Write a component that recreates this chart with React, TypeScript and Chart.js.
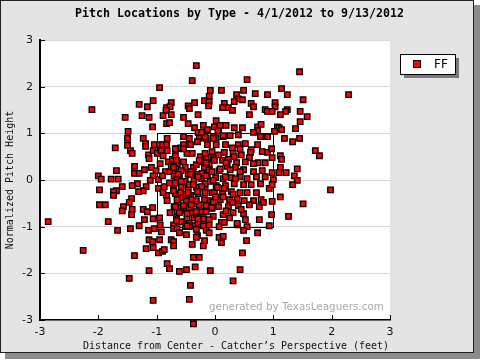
import React, { useEffect, useRef } from "react";
import { Chart, registerables } from "chart.js";

Chart.register(...registerables);

// ---- data ----
const titleText = "Pitch Locations by Type - 4/1/2012 to 9/13/2012";
const xAxisTitle = "Distance from Center - Catcher\u2019s Perspective (feet)";
const yAxisTitle = "Normalized Pitch Height";
const watermarkText = "generated by TexasLeaguers.com";
const seriesLabel = "FF";
const xTickValues = [-3, -2, -1, 0, 1, 2, 3];
const yTickValues = [-3, -2, -1, 0, 1, 2, 3];
const zoneX = [-1, 1];
const zoneY = [-1, 1];

const pitchX = [
  -2.11, -0.95, -1.3, -1.16, -1.06, -1.54, -1.25, -1.13, -1.07, -1.49, -1.5, -1.23,
  -0.32, -0.39, 0.55, -0.08, 0.11, 0.37, 0.49, 0.69, 0.9, -0.75, -0.83, -0.77, -0.84,
  -0.35, -0.46, -0.44, -0.18, -0.1, -0.1, -0.11, 0.16, 0.13, 0.23, 0.3, 0.4, 0.47, 0.33,
  0.62, 0.66, 0.86, 0.9, -0.89, -0.75, -0.29, 0.59, -0.54, -0.46, -0.83, -0.78, 0.02,
  -0.35, -0.2, -0.01, 0.09, 0.19, 0.33, 0.47, 0.06, -0.13, -0.29, 0.73, 0.79, 0.73, 0.66,
  -0.82, -0.54, -0.44, -0.22, -0.15, 0.02, 0.14, 0.26, 0.4, 0.78, 0.9,
  1.45, 1.14, 1.24, 2.29, 1.51, 1.03, 1.03, 0.98, 1.24, 1.21, 1.12, 1.46, 1.58, 1.46,
  1.07, 1.1, 1.14, 1.38, 1.02, 1.19, 1.45,
  -1.5, -1.71, -1.45, -1.42, -1.19, -1.19, -1.04, -0.95, -1.14, -1.06, -0.99, -1.13,
  -1.38, -1.69, -2.0, -1.95, -1.78, -1.66, -1.38, -1.3, -1.21, -1.09, -1.01, -1.06,
  -1.11, -0.97, -1.33, -1.42, -1.59, -1.98, -1.69, -1.74, -1.74, -1.18, -1.23, -1.31,
  -0.97, -1.43, -1.47, -1.98, -1.88, -1.57, -1.59, -1.42, -1.43, -1.23, -1.16, -1.07,
  -1.21, -1.06, -0.95, -2.86, -1.83, -1.45, -1.3, -1.04,
  -0.9, -0.83, -0.92, -0.89, -0.82, -0.94, -0.8, -0.73, -0.68, -0.66, -0.59, -0.54,
  -0.42, -0.48, -0.39, -0.54, -0.65, -0.51, -0.37, -0.85, -0.77, -0.9, -0.7, -0.61,
  -0.46, -0.3, -0.22, -0.13, -0.65, -0.51, -0.36, -0.23, -0.87, -0.71, -0.58, -0.46,
  -0.32, -0.17, -0.83, -0.68, -0.54, -0.42, -0.29, -0.18, -0.82, -0.63, -0.49, -0.36,
  -0.77, -0.65, -0.51, -0.39, -0.25, -0.66, -0.48, -0.36, -0.2, -0.71, -0.51, -0.37,
  -0.1, -0.03, -0.13, -0.05, -0.03, -0.1, -0.27, -0.17, -0.23, -0.3, -0.25, -0.15,
  -0.22, -0.32, -0.18, -0.1, -0.65, -0.75, -0.58, -0.41, -0.17, -0.08, -0.05, -0.08,
  -0.15, -0.05, -0.03, -0.29, -0.58, -0.44, -0.78, -0.89, -0.59, -0.41, -0.27, -0.7,
  -0.58, -0.44, -0.32, -0.59, -0.44, -0.2,
  0.05, 0.14, 1.33, 1.72, 1.79, 1.12, 1.14, 1.12, 1.1, 1.22, 1.41, 1.36, 1.41, 1.33,
  1.98, 1.12, 1.51, 1.26, 0.98, 1.0, 0.93, 0.98, 0.98, 0.97, 0.93,
  -0.03, 0.02, 0.18, 0.3, 0.4, 0.52, 0.62, 0.73, 0.81, 0.9, 0.97, 0.98, 0.86, 0.74,
  0.61, 0.59, 0.45, 0.31, 0.16, 0.06, -0.01, 0.13, 0.23, 0.37, 0.52, 0.66, 0.81, 0.66,
  0.49, 0.35, 0.21, 0.07, -0.05, 0.01, 0.14, 0.28, 0.43, 0.55, 0.71, 0.86, 0.78, 0.62,
  0.49, 0.33, 0.18, 0.02, -0.01, 0.13, 0.28, 0.43, 0.55, 0.71, 0.79, 0.66, 0.5, 0.38,
  0.25, 0.09, -0.03, 0.06, 0.23, 0.4, 0.59, 0.76, 0.83, 0.49, 0.31, 0.14, 0.76, 0.52,
  0.25, 0.11, 0.38, 0.55, 0.07,
  -1.67, -1.14, -0.92, -0.94, -0.71, -0.65, -0.61, -0.44, -0.49, -0.32, -0.3, -0.32,
  -0.15, -0.1, -2.26, -1.38, -1.13, -1.07, -0.95, -0.75, -0.71, -0.71, -1.18, -1.06,
  -0.97, -0.9, -0.87, -0.39, -0.2, -0.18, -0.82, -0.78, -0.37, -0.27, -0.34, -0.49,
  -0.61, -0.08, -1.13, -1.47, -0.42, -0.44, -1.06, -0.37,
  0.07, 0.14, 0.11, 0.49, 0.73, 0.54, 0.47, 0.43, 0.31,
  -0.68, -0.54, -0.17, 0.33, 0.43, -0.66, -0.27, -0.15, 0.19, -0.71, 0.09, 0.26, 0.43,
  -0.63, -0.42, -0.29, -0.15, -0.03, 0.18, 0.35, -0.68, -0.37, -0.23, 0.04, 0.16, -0.71,
  -0.59, -0.46, -0.3, -0.17, 0.01, 0.14, 0.31, -0.65, -0.49, -0.32, 0.3, -0.68, -0.54,
  -0.41, -0.06, 0.19, 0.45, -0.61, -0.48, -0.32, -0.15, -0.66, -0.48, -0.29, -0.1, 0.16,
  0.38,
];

const pitchY = [
  1.51, 1.98, 1.62, 1.57, 1.7, 1.34, 1.38, 1.34, 1.14, 1.04, 0.89, 0.89,
  2.45, 2.13, 2.15, 1.92, 1.92, 1.83, 1.92, 1.85, 1.83, 1.66, 1.55, 1.57, 1.49,
  1.66, 1.59, 1.53, 1.7, 1.79, 1.68, 1.59, 1.64, 1.55, 1.55, 1.49, 1.74, 1.72, 1.68,
  1.64, 1.57, 1.51, 1.47, 1.38, 1.4, 1.4, 1.4, 1.34, 1.21, 1.21, 1.23, 1.27,
  1.12, 1.17, 1.14, 1.17, 1.17, 1.12, 1.12, 1.06, 1.08, 1.02, 1.14, 1.19, 1.06, 1.02,
  0.89, 0.93, 0.89, 0.93, 0.89, 0.91, 0.93, 0.95, 0.97, 0.93, 0.93,
  2.32, 1.96, 1.83, 1.83, 1.72, 1.66, 1.57, 1.47, 1.51, 1.47, 1.4, 1.47, 1.36, 1.25,
  1.14, 1.12, 1.08, 1.1, 1.04, 0.89, 0.89,
  0.74, 0.69, 0.63, 0.57, 0.78, 0.72, 0.76, 0.76, 0.54, 0.63, 0.57, 0.46,
  0.29, 0.2, 0.09, 0.02, 0.02, 0.02, 0.14, 0.14, 0.22, 0.27, 0.2, 0.09,
  -0.01, 0.01, -0.08, -0.12, -0.14, -0.21, -0.23, -0.25, -0.33, -0.14, -0.23, -0.25,
  -0.18, -0.4, -0.48, -0.53, -0.53, -0.57, -0.66, -0.63, -0.74, -0.63, -0.68, -0.59,
  -0.85, -0.83, -0.81, -0.89, -0.89, -1.04, -0.98, -1.04,
  0.76, 0.76, 0.63, 0.52, 0.63, 0.35, 0.39, 0.44, 0.52, 0.67, 0.69, 0.76,
  0.76, 0.57, 0.57, 0.39, 0.24, 0.27, 0.27, 0.18, 0.18, 0.09, 0.09, 0.09,
  0.12, 0.12, 0.14, 0.12, 0.03, -0.03, -0.01, 0.03, -0.14, -0.18, -0.14, -0.18,
  -0.16, -0.18, -0.33, -0.29, -0.31, -0.33, -0.29, -0.42, -0.44, -0.48, -0.51, -0.51,
  -0.7, -0.68, -0.66, -0.7, -0.68, -0.83, -0.83, -0.81, -0.83, -0.96, -1.0, -0.98,
  -0.96, 0.93, 0.76, 0.61, 0.46, 0.33, 0.89, 0.93, 1.02, 0.82, 0.5, 0.48,
  0.39, 0.33, 0.27, 0.22, 0.35, 0.29, 0.2, 0.18, -0.08, -0.03, -0.27, -0.44,
  -0.55, -0.61, -0.78, -0.91, -0.03, -0.1, -0.06, -0.27, -0.38, -0.42, -0.53, -0.57,
  -0.59, -0.59, -0.74, -0.89, -0.93, -0.98,
  1.06, 0.95, 0.82, 0.63, 0.52, 0.52, 0.44, 0.27, 0.16, 0.16, 0.24, 0.09, -0.01, -0.1,
  -0.21, -0.36, -0.51, -0.78, 0.16, 0.01, -0.18, -0.1, -0.46, -0.74, -0.98,
  0.89, 0.76, 0.76, 0.69, 0.76, 0.78, 0.65, 0.76, 0.61, 0.59, 0.67, 0.48, 0.37, 0.37,
  0.59, 0.48, 0.54, 0.57, 0.59, 0.54, 0.42, 0.42, 0.44, 0.37, 0.39, 0.35, 0.2, 0.18,
  0.22, 0.27, 0.29, 0.2, 0.18, 0.05, 0.03, 0.05, 0.07, 0.03, 0.07, 0.07, -0.08, -0.1,
  -0.1, -0.08, -0.12, -0.12, -0.27, -0.29, -0.25, -0.27, -0.27, -0.27, -0.42, -0.44, -0.44, -0.4,
  -0.42, -0.42, -0.48, -0.57, -0.57, -0.55, -0.53, -0.57, -0.48, -0.72, -0.7, -0.74, -0.85, -0.85,
  -0.81, -0.91, -0.96, -1.0, -1.0,
  -1.08, -1.08, -1.11, -0.96, -1.04, -1.04, -1.13, -1.0, -1.17, -1.06, -1.19, -1.23,
  -1.08, -1.13, -1.51, -1.62, -1.28, -1.32, -1.28, -1.28, -1.32, -1.41, -1.47, -1.45,
  -1.56, -1.53, -1.49, -1.38, -1.41, -1.3, -1.79, -1.9, -1.66, -1.66, -1.86, -1.92,
  -1.96, -1.94, -1.94, -2.11, -2.26, -2.56, -2.58, -3.08,
  -1.23, -1.21, -1.34, -1.08, -1.13, -1.3, -1.56, -1.92, -2.16,
  0.67, 0.67, 0.57, 0.5, 0.67, 0.42, 0.42, 0.37, 0.37, 0.27, 0.24, 0.22, 0.18,
  0.12, 0.12, 0.07, 0.09, -0.01, 0.07, 0.03, -0.06, -0.1, -0.14, -0.16, -0.18, -0.23,
  -0.27, -0.27, -0.25, -0.27, -0.36, -0.36, -0.31, -0.42, -0.46, -0.44, -0.48, -0.57, -0.55,
  -0.53, -0.59, -0.66, -0.63, -0.7, -0.72, -0.68, -0.68, -0.87, -0.98, -0.83, -0.85, -0.91,
  -0.93,
];

const MONO = "'DejaVu Sans Mono', 'Liberation Mono', monospace";
const SANS = "'DejaVu Sans', Verdana, sans-serif";

function drawFitted(
  ctx: CanvasRenderingContext2D,
  text: string,
  x: number,
  y: number,
  width: number,
  weight: string,
  family: string,
  base: number
) {
  ctx.font = `${weight} ${base}px ${family}`;
  const w = ctx.measureText(text).width;
  const size = Math.max(6, Math.min(30, (base * width) / w));
  ctx.font = `${weight} ${size.toFixed(2)}px ${family}`;
  ctx.fillText(text, x, y);
}

const framePlugin = {
  id: "framePlugin",
  beforeDraw(chart: any) {
    const ctx = chart.ctx as CanvasRenderingContext2D;
    const { left, right, top, bottom } = chart.chartArea;
    ctx.save();
    ctx.fillStyle = "#ffffff";
    ctx.fillRect(0, 0, 480, 360);
    ctx.fillStyle = "#8c8c8c";
    ctx.fillRect(5, 5, 475, 354);
    ctx.fillStyle = "#e4e4e4";
    ctx.fillRect(0, 0, 474, 353);
    ctx.strokeStyle = "#222222";
    ctx.lineWidth = 1;
    ctx.strokeRect(0.5, 0.5, 473, 352);
    ctx.fillStyle = "#ffffff";
    ctx.fillRect(left, top, right - left, bottom - top);
    ctx.restore();
  },
  beforeDatasetsDraw(chart: any) {
    const ctx = chart.ctx as CanvasRenderingContext2D;
    const xs = chart.scales.x;
    const ys = chart.scales.y;
    ctx.save();
    // watermark
    ctx.fillStyle = "#a9a9a9";
    ctx.textAlign = "left";
    ctx.textBaseline = "middle";
    drawFitted(ctx, watermarkText, 209, 307, 175, "normal", SANS, 13);
    // strike zone
    const x0 = Math.round(xs.getPixelForValue(zoneX[0])) + 0.5;
    const x1 = Math.round(xs.getPixelForValue(zoneX[1])) + 0.5;
    const y0 = Math.round(ys.getPixelForValue(zoneY[1])) + 0.5;
    const y1 = Math.round(ys.getPixelForValue(zoneY[0])) + 0.5;
    ctx.strokeStyle = "#000000";
    ctx.lineWidth = 1;
    ctx.strokeRect(x0, y0, x1 - x0, y1 - y0);
    ctx.restore();
  },
  afterDraw(chart: any) {
    const ctx = chart.ctx as CanvasRenderingContext2D;
    const xs = chart.scales.x;
    const ys = chart.scales.y;
    const { left, bottom } = chart.chartArea;
    ctx.save();
    // inward ticks
    ctx.strokeStyle = "#000000";
    ctx.lineWidth = 1;
    ctx.beginPath();
    xTickValues.forEach((v) => {
      const px = Math.round(xs.getPixelForValue(v)) + 0.5;
      ctx.moveTo(px, bottom);
      ctx.lineTo(px, bottom - 5);
    });
    yTickValues.forEach((v) => {
      const py = Math.round(ys.getPixelForValue(v)) + 0.5;
      ctx.moveTo(left, py);
      ctx.lineTo(left + 5, py);
    });
    ctx.stroke();

    // title
    ctx.fillStyle = "#000000";
    ctx.textAlign = "left";
    ctx.textBaseline = "middle";
    drawFitted(ctx, titleText, 75, 13.5, 329, "bold", MONO, 11.5);
    // x axis title
    ctx.fillStyle = "#111111";
    drawFitted(ctx, xAxisTitle, 83, 346, 306, "normal", MONO, 10);
    // y axis title
    ctx.save();
    ctx.translate(10, (chart.chartArea.top + bottom) / 2);
    ctx.rotate(-Math.PI / 2);
    ctx.textAlign = "center";
    ctx.font = `normal 10px ${MONO}`;
    ctx.fillText(yAxisTitle, 0, 0);
    ctx.restore();

    // legend box
    ctx.fillStyle = "#7a7a7a";
    ctx.fillRect(404, 58, 55, 20);
    ctx.fillStyle = "#ffffff";
    ctx.fillRect(400, 54, 55, 20);
    ctx.strokeStyle = "#000000";
    ctx.lineWidth = 1;
    ctx.strokeRect(400.5, 54.5, 55, 20);
    ctx.fillStyle = "#ff0000";
    ctx.fillRect(413.5, 60.5, 7, 7);
    ctx.strokeRect(413.5, 60.5, 7, 7);
    ctx.fillStyle = "#000000";
    ctx.font = `normal 12px ${SANS}`;
    ctx.textAlign = "left";
    ctx.textBaseline = "middle";
    ctx.fillText(seriesLabel, 434, 65);
    ctx.restore();
  },
};

export default function App() {
  const canvasRef = useRef<HTMLCanvasElement | null>(null);

  useEffect(() => {
    if (!canvasRef.current) return;
    const points = pitchX.map((x, i) => ({ x, y: pitchY[i] }));
    const chart = new Chart(canvasRef.current, {
      type: "scatter",
      data: {
        datasets: [
          {
            label: seriesLabel,
            data: points,
            pointStyle: "rect",
            pointRadius: 3.9,
            pointHoverRadius: 3.9,
            backgroundColor: "#ff0000",
            borderColor: "#000000",
            borderWidth: 1.3,
            clip: false as any,
          },
        ],
      },
      options: {
        animation: false,
        responsive: false,
        devicePixelRatio: 1,
        events: [],
        layout: { padding: { top: 40, right: 90, left: 0, bottom: 0 } },
        plugins: {
          legend: { display: false },
          tooltip: { enabled: false },
          title: { display: false },
        },
        scales: {
          x: {
            type: "linear",
            min: -3,
            max: 3,
            afterFit: (s: any) => {
              s.height = 40;
            },
            afterBuildTicks: (s: any) => {
              s.ticks = xTickValues.map((v) => ({ value: v }));
            },
            ticks: {
              padding: 6,
              color: "#111111",
              font: { family: SANS, size: 11 },
              maxRotation: 0,
            },
            grid: { display: true, color: "rgba(0,0,0,0)", drawTicks: false },
            border: { display: true, color: "#000000", width: 1.5 },
          },
          y: {
            type: "linear",
            min: -3,
            max: 3,
            afterFit: (s: any) => {
              s.width = 40;
            },
            afterBuildTicks: (s: any) => {
              s.ticks = yTickValues.map((v) => ({ value: v }));
            },
            ticks: {
              padding: 7,
              color: "#111111",
              font: { family: SANS, size: 11 },
            },
            grid: { display: true, color: "#d6d6d6", lineWidth: 1, drawTicks: false },
            border: { display: true, color: "#000000", width: 2 },
          },
        },
      },
      plugins: [framePlugin],
    });
    return () => chart.destroy();
  }, []);

  return (
    <div style={{ position: "fixed", left: 0, top: 0, width: 480, height: 360 }}>
      <canvas ref={canvasRef} width={480} height={360} style={{ display: "block", width: 480, height: 360 }} />
    </div>
  );
}
